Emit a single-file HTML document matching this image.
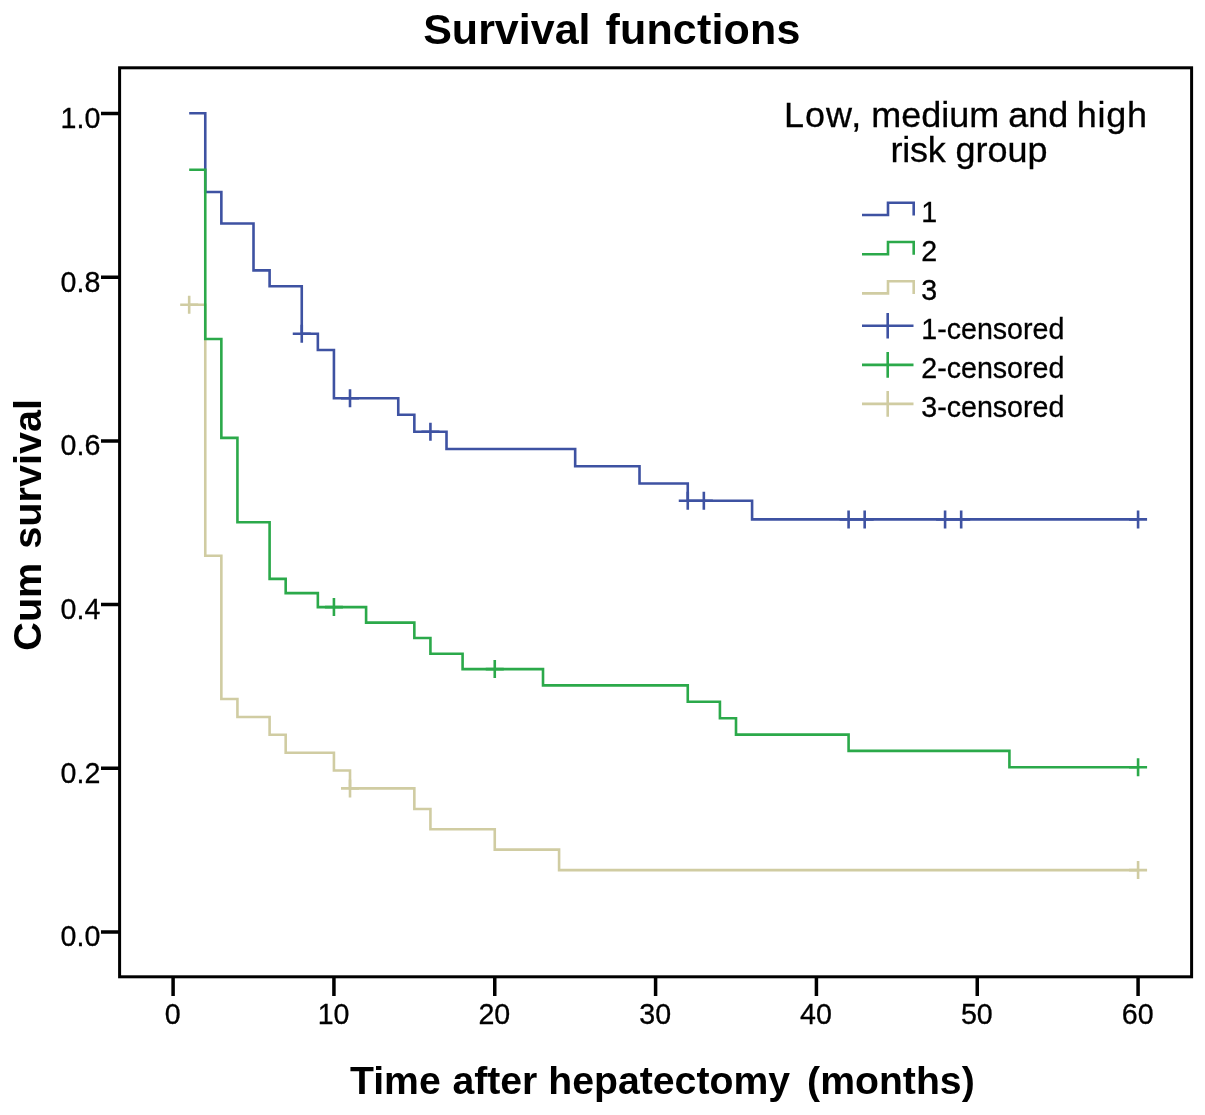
<!DOCTYPE html>
<html lang="en">
<head>
<meta charset="utf-8">
<title>Survival functions</title>
<style>
html,body{margin:0;padding:0;background:#fff;}
body{width:1205px;height:1115px;overflow:hidden;}
svg{display:block;}
text{font-family:"Liberation Sans",Arial,Helvetica,sans-serif;fill:#000;stroke:#000;stroke-width:0.3px;}
.tl text{font-size:28.6px;}
.b{font-weight:bold;stroke:none;}
</style>
</head>
<body>
<svg width="1205" height="1115" viewBox="0 0 1205 1115">
<rect x="0" y="0" width="1205" height="1115" fill="#fff"/>
<rect x="119.6" y="67.8" width="1072.0" height="909.0" fill="none" stroke="#000" stroke-width="3"/>
<path d="M101,931.9H119.6M101,768.24H119.6M101,604.58H119.6M101,440.92H119.6M101,277.26H119.6M101,113.6H119.6" stroke="#000" stroke-width="3.5" fill="none"/>
<path d="M173.1,976.8V996M333.93,976.8V996M494.76,976.8V996M655.59,976.8V996M816.42,976.8V996M977.25,976.8V996M1138.08,976.8V996" stroke="#000" stroke-width="3.5" fill="none"/>
<g class="tl"><text transform="translate(100.3,946.3) scale(1,1.03)" text-anchor="end">0.0</text><text transform="translate(100.3,782.64) scale(1,1.03)" text-anchor="end">0.2</text><text transform="translate(100.3,618.98) scale(1,1.03)" text-anchor="end">0.4</text><text transform="translate(100.3,455.32) scale(1,1.03)" text-anchor="end">0.6</text><text transform="translate(100.3,291.66) scale(1,1.03)" text-anchor="end">0.8</text><text transform="translate(100.3,128.0) scale(1,1.03)" text-anchor="end">1.0</text><text transform="translate(172.70,1024.4) scale(1,1.03)" text-anchor="middle">0</text><text transform="translate(333.53,1024.4) scale(1,1.03)" text-anchor="middle">10</text><text transform="translate(494.36,1024.4) scale(1,1.03)" text-anchor="middle">20</text><text transform="translate(655.19,1024.4) scale(1,1.03)" text-anchor="middle">30</text><text transform="translate(816.02,1024.4) scale(1,1.03)" text-anchor="middle">40</text><text transform="translate(976.85,1024.4) scale(1,1.03)" text-anchor="middle">50</text><text transform="translate(1137.68,1024.4) scale(1,1.03)" text-anchor="middle">60</text></g>
<text class="b" font-size="43" y="43.6"><tspan x="423.2">Survival</tspan> <tspan x="605.4" letter-spacing="0.2">functions</tspan></text>
<text class="b" font-size="39.2" y="1093.8"><tspan x="350">Time</tspan> <tspan x="452.4">after</tspan> <tspan x="548.3">hepatectomy</tspan> <tspan x="807.1">(months)</tspan></text>
<text class="b" font-size="39.6" transform="translate(41,650.7) rotate(-90)"><tspan x="0">Cum</tspan> <tspan x="102.0">survival</tspan></text>
<g font-size="36"><text transform="translate(0,127) scale(1,0.975)"><tspan x="784" letter-spacing="1.05">Low,</tspan> <tspan x="871.2">medium</tspan> <tspan x="1008.3">and</tspan> <tspan x="1076.8" letter-spacing="0.7">high</tspan></text><text transform="translate(0,162.4) scale(1,0.975)"><tspan x="890.6" letter-spacing="-0.3">risk</tspan> <tspan x="955.5">group</tspan></text></g>
<g class="tl"><path d="M862,215.0H888V202.8H913.7V215.6" fill="none" stroke="#3E52A2" stroke-width="2.6"/><text x="921.3" y="222.0">1</text><path d="M862,254.2H888V242.0H913.7V254.8" fill="none" stroke="#2BA94A" stroke-width="2.6"/><text x="921.3" y="260.9">2</text><path d="M862,293.4H888V281.2H913.7V294.0" fill="none" stroke="#D0CCA2" stroke-width="2.6"/><text x="921.3" y="299.8">3</text><path d="M862,325.8H913.5M887.7,313.0V338.6" fill="none" stroke="#3E52A2" stroke-width="2.6"/><text x="921.3" y="338.7">1-censored</text><path d="M862,364.9H913.5M887.7,352.1V377.7" fill="none" stroke="#2BA94A" stroke-width="2.6"/><text x="921.3" y="377.6">2-censored</text><path d="M862,403.9H913.5M887.7,391.1V416.7" fill="none" stroke="#D0CCA2" stroke-width="2.6"/><text x="921.3" y="416.5">3-censored</text></g>
<path d="M189.18,304.8H205.27V555.7H221.35V699H237.43V717H269.6V734.8H285.68V752.7H333.93V770.5H350.01V788.4H414.34V809H430.43V829.3H494.76V849.6H559.09V870.1H1138.08" fill="none" stroke="#D0CCA2" stroke-width="2.6" stroke-linejoin="miter"/>
<path d="M180.18,304.8H198.18M189.18,295.8V313.8M341.01,788.4H359.01M350.01,779.4V797.4M1129.08,870.1H1147.08M1138.08,861.1V879.1" fill="none" stroke="#D0CCA2" stroke-width="2.6"/>

<path d="M189.18,113.3H205.27V192H221.35V223.5H253.51V270.4H269.6V286.2H301.76V333.8H317.85V350H333.93V398.2H398.26V414.7H414.34V431.8H446.51V449H575.17V466.3H639.51V483.5H687.76V500.7H752.09V519.4H1138.08" fill="none" stroke="#3E52A2" stroke-width="2.6" stroke-linejoin="miter"/>
<path d="M292.76,333.8H310.76M301.76,324.8V342.8M341.01,398.2H359.01M350.01,389.2V407.2M421.43,431.8H439.43M430.43,422.8V440.8M678.76,500.7H696.76M687.76,491.7V509.7M694.84,500.7H712.84M703.84,491.7V509.7M839.59,519.4H857.59M848.59,510.4V528.4M855.67,519.4H873.67M864.67,510.4V528.4M936.08,519.4H954.08M945.08,510.4V528.4M952.17,519.4H970.17M961.17,510.4V528.4M1129.08,519.4H1147.08M1138.08,510.4V528.4" fill="none" stroke="#3E52A2" stroke-width="2.6"/>

<path d="M189.18,169.8H205.27V339H221.35V437.9H237.43V522.2H269.6V578.9H285.68V593.1H317.85V607.1H366.1V622.6H414.34V638H430.43V653.7H462.59V669.1H543.01V685.4H687.76V701.8H719.92V718.2H736.0V734.6H848.59V750.9H1009.42V767.3H1138.08" fill="none" stroke="#2BA94A" stroke-width="2.6" stroke-linejoin="miter"/>
<path d="M324.93,607.1H342.93M333.93,598.1V616.1M485.76,669.1H503.76M494.76,660.1V678.1M1129.08,767.3H1147.08M1138.08,758.3V776.3" fill="none" stroke="#2BA94A" stroke-width="2.6"/>

</svg>
</body>
</html>
